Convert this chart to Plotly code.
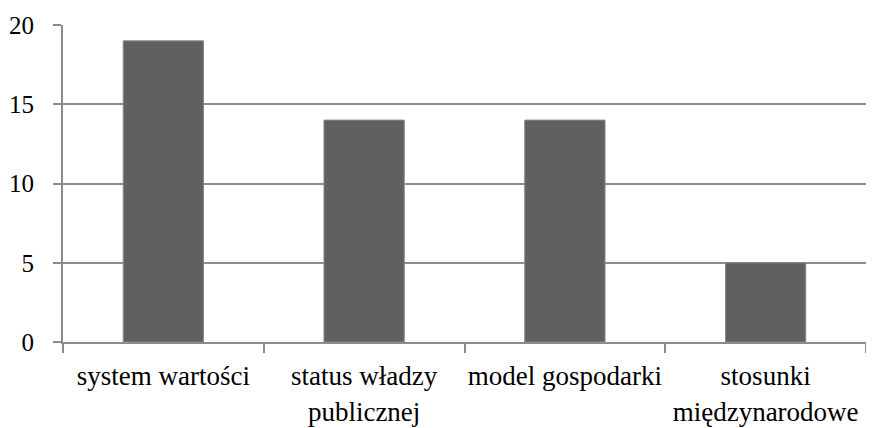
import plotly.graph_objects as go

categories = ["system wartości", "status władzy<br>publicznej", "model gospodarki", "stosunki<br>międzynarodowe"]
values = [19, 14, 14, 5]
y_ticks = [0, 5, 10, 15, 20]

GRID = "#8c8c8c"
FONT = dict(family="Liberation Serif", size=26, color="#000000")

fig = go.Figure(
    go.Bar(
        x=categories,
        y=values,
        marker=dict(color="#606060", line=dict(color="#8a8a8a", width=1)),
        width=0.4,
    )
)

# the page body adds an 8px offset, so margins are shifted to compensate
fig.update_layout(
    width=874,
    height=428,
    margin=dict(l=55, r=16, t=17, b=94),
    paper_bgcolor="white",
    plot_bgcolor="white",
    font=FONT,
    showlegend=False,
    bargap=0.6,
)

fig.update_xaxes(
    automargin=False,
    showline=True,
    linecolor=GRID,
    linewidth=2,
    showgrid=False,
    ticks="outside",
    tickson="boundaries",
    ticklen=9,
    tickwidth=2,
    tickcolor=GRID,
    tickfont=dict(size=27),
    tickangle=0,
    ticklabelstandoff=9,
)

fig.update_yaxes(
    automargin=False,
    range=[0, 20],
    tickvals=y_ticks,
    showline=True,
    linecolor=GRID,
    linewidth=2,
    showgrid=True,
    gridcolor=GRID,
    gridwidth=2,
    ticks="outside",
    ticklen=8,
    tickwidth=2,
    tickcolor=GRID,
    tickfont=dict(size=25),
    ticklabelstandoff=14,
    zeroline=False,
)

fig.write_html("out.html")
